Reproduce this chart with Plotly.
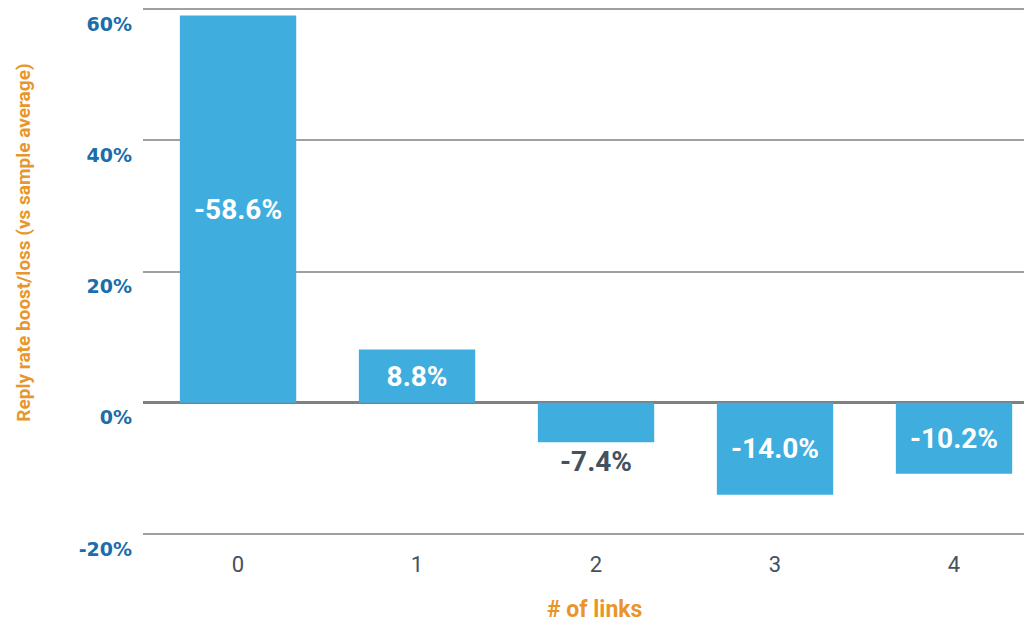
import plotly.graph_objects as go

categories = ["0", "1", "2", "3", "4"]
values = [59.0, 8.1, -6.0, -14.0, -10.8]
labels = ["-58.6%", "8.8%", "-7.4%", "-14.0%", "-10.2%"]
label_positions = ["inside", "inside", "outside", "inside", "inside"]
label_colors = ["white", "white", "#44525e", "white", "white"]
y_ticks = [-20, 0, 20, 40, 60]
y_tick_labels = ["-20%", "0%", "20%", "40%", "60%"]

BAR = "#3faedf"
BLUE = "#1b6dab"
ORANGE = "#e8962c"
GRAY = "#44525e"
FONT = "Roboto"

fig = go.Figure()
fig.add_trace(go.Bar(
    x=list(range(len(categories))),
    y=values,
    width=0.65,
    marker=dict(color=BAR, line=dict(width=0)),
    text=labels,
    textposition=label_positions,
    insidetextanchor="middle",
    textfont=dict(family=FONT, size=28, color=label_colors, weight="bold"),
    outsidetextfont=dict(family=FONT, size=28, color=GRAY, weight="bold"),
    constraintext="none",
    cliponaxis=False,
    hoverinfo="skip",
))

fig.update_layout(
    width=1024, height=623,
    margin=dict(l=143, r=0, t=7, b=87, autoexpand=False),
    plot_bgcolor="white", paper_bgcolor="white",
    showlegend=False,
    font=dict(family=FONT),
    xaxis=dict(
        tickmode="array",
        tickvals=list(range(len(categories))),
        ticktext=categories,
        range=[-0.531, 4.391],
        automargin=False,
        showgrid=False, zeroline=False, showline=False,
        ticks="",
        ticklabelstandoff=13,
        tickfont=dict(family=FONT, size=22, color=GRAY),
    ),
    yaxis=dict(
        tickmode="array",
        tickvals=y_ticks,
        ticktext=y_tick_labels,
        range=[-20.3, 60.3],
        automargin=False,
        showgrid=True, gridcolor="#a0a0a0", gridwidth=1.5,
        zeroline=True, zerolinecolor="#808080", zerolinewidth=2.5,
        showline=False, ticks="",
        ticklabelshift=15,
        ticklabelstandoff=10,
        tickfont=dict(family="DejaVu Sans", size=19, color=BLUE, weight="bold"),
    ),
    annotations=[
        dict(
            text="Reply rate boost/loss (vs sample average)",
            xref="paper", yref="y",
            x=-0.135, y=24.4,
            xanchor="center", yanchor="middle",
            textangle=-90, showarrow=False,
            font=dict(family=FONT, size=19, color=ORANGE, weight="bold"),
        ),
        dict(
            text="# of links",
            xref="paper", yref="paper",
            x=0.512, y=-0.138,
            xanchor="center", yanchor="middle",
            showarrow=False,
            font=dict(family=FONT, size=23, color=ORANGE, weight="bold"),
        ),
    ],
)

fig.write_html("out.html", config={"displayModeBar": False},
               post_script="document.body.style.margin='0';")
